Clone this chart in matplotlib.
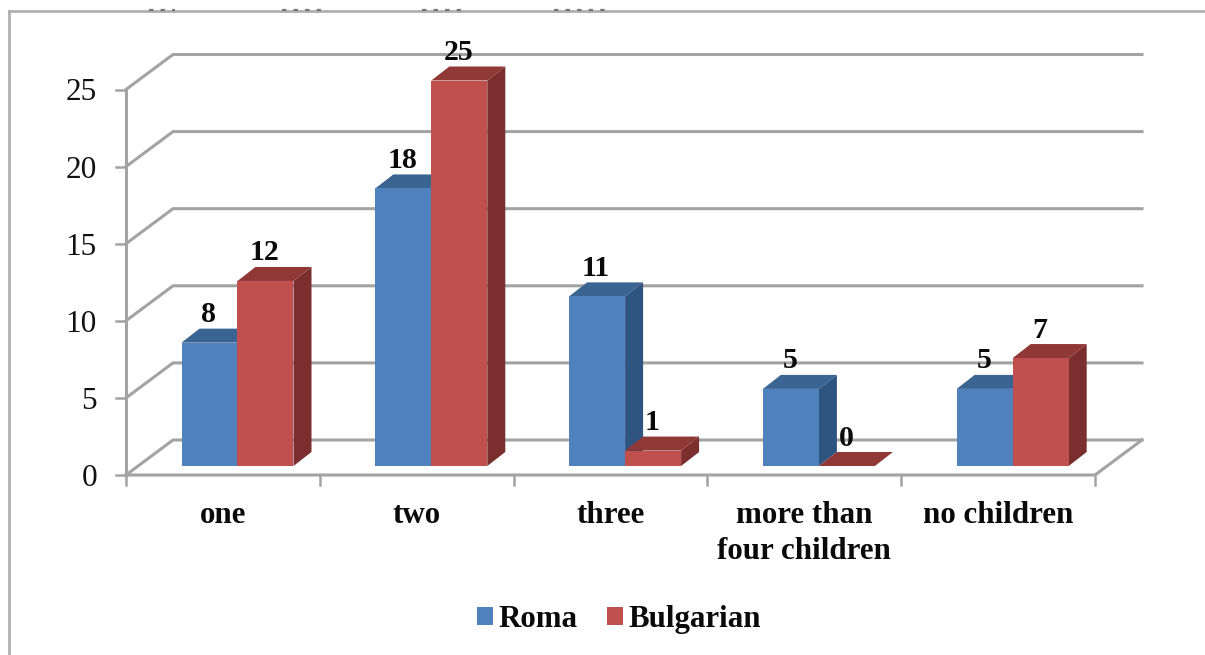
import numpy as np
import matplotlib
matplotlib.use("Agg")
import matplotlib.pyplot as plt
from matplotlib.patches import Patch, Polygon

plt.rcParams["font.family"] = ["Liberation Serif", "DejaVu Serif"]

categories = ["one", "two", "three", "more than\nfour children", "no children"]
roma = [8, 18, 11, 5, 5]
bulgarian = [12, 25, 1, 0, 7]
y_ticks = [0, 5, 10, 15, 20, 25]

W, H = 1205, 655
CAT_PX = 193.8       # one category on the x axis
UNIT_PX = 15.42      # one value unit on the y axis
X0_PX, Y0_PX = 126, 475

GRID = "#a3a3a3"
FRAME = "#b0b0b0"
BLUE, BLUE_SIDE, BLUE_TOP = "#4f81bd", "#2f5480", "#3a6491"
RED, RED_SIDE, RED_TOP = "#c0504d", "#7a2e2d", "#8f3836"

# leftovers of a cropped caption along the top edge (pixel ranges)
crop_marks = [(149, 175), (282, 321), (422, 461), (554, 610)]


def dx(px):
    return px / CAT_PX


def dy(px):
    return px / UNIT_PX


fig = plt.figure(figsize=(W / 100, H / 100), dpi=100)
ax = fig.add_axes([0, 0, 1, 1])
ax.set_xlim(-X0_PX / CAT_PX, (W - X0_PX) / CAT_PX)
ax.set_ylim((Y0_PX - H) / UNIT_PX, Y0_PX / UNIT_PX)
ax.axis("off")

n = len(categories)

# picture frame, only top and left survive in the scan
ax.plot([dx(9 - X0_PX), dx(9 - X0_PX)], [dy(Y0_PX - H), dy(Y0_PX - 11)],
        color=FRAME, lw=2, zorder=1)
ax.plot([dx(9 - X0_PX), dx(W - X0_PX)], [dy(Y0_PX - 11), dy(Y0_PX - 11)],
        color=FRAME, lw=2, zorder=1)
for a, b in crop_marks:
    ax.plot([dx(a - X0_PX), dx(b - X0_PX)], [dy(Y0_PX - 10), dy(Y0_PX - 10)],
            color="#777777", lw=1.6, ls=(0, (2, 3.2)), zorder=1.5)

# back wall gridlines and the slanted part on the left wall
back_x, back_y = dx(47), dy(35)
for v in y_ticks:
    ax.plot([0, back_x, n + back_x], [v, v + back_y, v + back_y],
            color=GRID, lw=2.2, zorder=2, solid_joinstyle="miter")
    ax.plot([dx(-10), 0], [v, v], color=GRID, lw=1.8, zorder=2)
    ax.text(dx(-29), v, str(v), ha="right", va="center_baseline",
            fontsize=22.5, color="#111111")

# floor and axes
ax.plot([0, n, n + back_x], [0, 0, back_y], color=GRID, lw=2.2, zorder=2)
ax.plot([0, 0], [0, 25], color=GRID, lw=2.2, zorder=2)
for i in range(n + 1):
    ax.plot([i, i], [0, dy(-10)], color=GRID, lw=1.8, zorder=2)

# bars: front face with ax.bar, side and top as offset polygons
bar_w = dx(56)
left_off = dx(55.5)
lift = dy(9)
depth_x, depth_y = dx(18), dy(14)
xs = np.arange(n)

for j, (vals, front, side, top) in enumerate([
        (roma, BLUE, BLUE_SIDE, BLUE_TOP),
        (bulgarian, RED, RED_SIDE, RED_TOP)]):
    lefts = xs + left_off + j * bar_w
    z = 3 + j
    ax.bar(lefts, vals, width=bar_w, bottom=lift, align="edge", color=front,
           linewidth=0, zorder=z + 0.2)
    for x, v in zip(lefts, vals):
        t = v + lift
        ax.add_patch(Polygon([(x + bar_w, lift), (x + bar_w + depth_x, lift + depth_y),
                              (x + bar_w + depth_x, t + depth_y), (x + bar_w, t)],
                             closed=True, fc=side, ec="none", zorder=z))
        ax.add_patch(Polygon([(x, t), (x + depth_x, t + depth_y),
                              (x + bar_w + depth_x, t + depth_y), (x + bar_w, t)],
                             closed=True, fc=top, ec="none", zorder=z + 0.1))
        ax.text(x + bar_w / 2 + dx(-1), t + dy(31), str(v), ha="center",
                va="center_baseline", fontsize=21.5, fontweight="bold",
                color="#0a0a0a", zorder=6)

# category labels
for i, name in enumerate(categories):
    ax.text(i + 0.5, dy(-26), name, ha="center", va="top", fontsize=22.3,
            fontweight="bold", color="#0a0a0a", linespacing=1.3)

handles = [Patch(fc=BLUE, ec="none", label="Roma"),
           Patch(fc=RED, ec="none", label="Bulgarian")]
fig.legend(handles=handles, loc="center", bbox_to_anchor=(619 / W, 1 - 619.5 / H),
           frameon=False, ncol=2, prop={"weight": "bold", "size": 22.2},
           handlelength=0.52, handleheight=0.52, handletextpad=0.2,
           columnspacing=0.94, labelcolor="#0a0a0a")

fig.savefig("out.png", dpi=100)
